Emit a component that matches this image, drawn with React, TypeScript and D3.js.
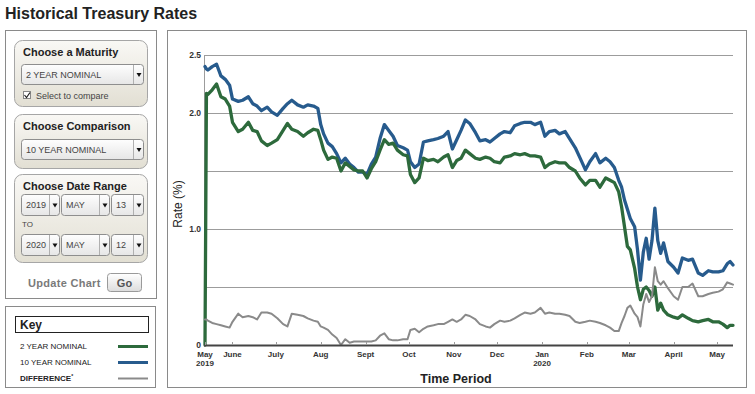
import * as d3 from 'd3';
import { useEffect, useRef } from 'react';

const dates = [
  '2019-05-13', '2019-05-14', '2019-05-15', '2019-05-18', '2019-05-21', '2019-05-24', '2019-05-27', '2019-05-30', '2019-06-01', '2019-06-05',
  '2019-06-08', '2019-06-12', '2019-06-15', '2019-06-18', '2019-06-21', '2019-06-25', '2019-06-28', '2019-07-02', '2019-07-06', '2019-07-09',
  '2019-07-12', '2019-07-16', '2019-07-20', '2019-07-23', '2019-07-27', '2019-07-30', '2019-08-01', '2019-08-03', '2019-08-06', '2019-08-09',
  '2019-08-12', '2019-08-15', '2019-08-18', '2019-08-21', '2019-08-24', '2019-08-27', '2019-08-30', '2019-09-02', '2019-09-05', '2019-09-08',
  '2019-09-11', '2019-09-14', '2019-09-17', '2019-09-20', '2019-09-23', '2019-09-27', '2019-09-30', '2019-10-02', '2019-10-05', '2019-10-08',
  '2019-10-11', '2019-10-14', '2019-10-18', '2019-10-21', '2019-10-25', '2019-10-28', '2019-10-31', '2019-11-03', '2019-11-06', '2019-11-09',
  '2019-11-12', '2019-11-16', '2019-11-19', '2019-11-23', '2019-11-26', '2019-11-29', '2019-12-03', '2019-12-06', '2019-12-10', '2019-12-13',
  '2019-12-17', '2019-12-20', '2019-12-24', '2019-12-27', '2019-12-31', '2020-01-03', '2020-01-06', '2020-01-10', '2020-01-13', '2020-01-17',
  '2020-01-20', '2020-01-24', '2020-01-27', '2020-01-31', '2020-02-03', '2020-02-07', '2020-02-10', '2020-02-14', '2020-02-17', '2020-02-20',
  '2020-02-23', '2020-02-25', '2020-02-27', '2020-02-29', '2020-03-02', '2020-03-05', '2020-03-07', '2020-03-09', '2020-03-11', '2020-03-13',
  '2020-03-15', '2020-03-17', '2020-03-19', '2020-03-21', '2020-03-23', '2020-03-25', '2020-03-28', '2020-04-01', '2020-04-04', '2020-04-07',
  '2020-04-11', '2020-04-14', '2020-04-18', '2020-04-21', '2020-04-25', '2020-04-28', '2020-05-02', '2020-05-05', '2020-05-08', '2020-05-10',
  '2020-05-12',
];

const twoYear = [
  0, 2.17, 2.16, 2.2, 2.25, 2.14, 2.12, 2.06, 1.92, 1.84,
  1.86, 1.92, 1.85, 1.84, 1.76, 1.72, 1.74, 1.77, 1.85, 1.91,
  1.86, 1.84, 1.8, 1.83, 1.86, 1.85, 1.77, 1.68, 1.6, 1.62,
  1.61, 1.5, 1.57, 1.54, 1.51, 1.5, 1.5, 1.44, 1.52, 1.58,
  1.68, 1.77, 1.73, 1.74, 1.68, 1.64, 1.63, 1.47, 1.4, 1.44,
  1.61, 1.59, 1.6, 1.58, 1.62, 1.64, 1.53, 1.59, 1.61, 1.68,
  1.65, 1.61, 1.6, 1.62, 1.61, 1.58, 1.57, 1.62, 1.63, 1.65,
  1.64, 1.65, 1.63, 1.63, 1.62, 1.53, 1.56, 1.58, 1.57, 1.57,
  1.53, 1.5, 1.44, 1.38, 1.42, 1.42, 1.36, 1.44, 1.42, 1.4,
  1.32, 1.19, 1.02, 0.85, 0.82, 0.66, 0.5, 0.39, 0.48, 0.5,
  0.47, 0.42, 0.5, 0.3, 0.36, 0.3, 0.26, 0.24, 0.23, 0.26,
  0.23, 0.21, 0.2, 0.21, 0.22, 0.2, 0.2, 0.18, 0.15, 0.17,
  0.17,
];

const tenYear = [
  2.4, 2.38, 2.37, 2.4, 2.42, 2.32, 2.29, 2.24, 2.12, 2.1,
  2.11, 2.14, 2.08, 2.06, 2.02, 2.05, 2.01, 1.98, 2.04, 2.08,
  2.11, 2.07, 2.05, 2.07, 2.06, 2.04, 1.9, 1.82, 1.74, 1.71,
  1.65, 1.57, 1.61, 1.56, 1.53, 1.49, 1.49, 1.47, 1.56, 1.62,
  1.78, 1.9, 1.85, 1.8, 1.72, 1.7, 1.68, 1.58, 1.53, 1.56,
  1.75, 1.76, 1.77, 1.78, 1.8, 1.84, 1.69, 1.77, 1.85, 1.94,
  1.91, 1.83, 1.76, 1.77, 1.75, 1.78, 1.82, 1.84, 1.83, 1.89,
  1.91, 1.92, 1.92, 1.9, 1.92, 1.8, 1.84, 1.85, 1.82, 1.84,
  1.78, 1.7, 1.62, 1.51, 1.58, 1.65, 1.57, 1.61, 1.58, 1.53,
  1.42, 1.36, 1.25, 1.17, 1.09, 1.02, 0.82, 0.56, 0.8, 0.92,
  0.74, 0.9, 1.18, 0.9, 0.79, 0.88, 0.72, 0.67, 0.62, 0.75,
  0.73, 0.74, 0.62, 0.6, 0.64, 0.63, 0.63, 0.64, 0.7, 0.72,
  0.69,
];

const difference = [
  0.22, 0.22, 0.21, 0.19, 0.18, 0.17, 0.16, 0.15, 0.2, 0.27,
  0.24, 0.25, 0.24, 0.22, 0.28, 0.28, 0.27, 0.23, 0.18, 0.16,
  0.27, 0.26, 0.25, 0.23, 0.21, 0.2, 0.16, 0.15, 0.13, 0.09,
  0.06, 0.0, 0.05, 0.02, 0.03, 0.03, 0.03, 0.03, 0.03, 0.04,
  0.08, 0.1, 0.05, 0.04, 0.04, 0.05, 0.05, 0.13, 0.14, 0.11,
  0.14, 0.16, 0.17, 0.18, 0.18, 0.2, 0.22, 0.2, 0.22, 0.26,
  0.25, 0.22, 0.18, 0.16, 0.15, 0.18, 0.21, 0.2, 0.21, 0.23,
  0.26, 0.28, 0.27, 0.28, 0.32, 0.27, 0.28, 0.27, 0.27, 0.26,
  0.25, 0.2, 0.19, 0.2, 0.21, 0.2, 0.19, 0.17, 0.15, 0.12,
  0.12, 0.19, 0.25, 0.32, 0.34, 0.27, 0.24, 0.16, 0.35, 0.44,
  0.37, 0.42, 0.67, 0.55, 0.52, 0.55, 0.49, 0.42, 0.39, 0.5,
  0.5, 0.53, 0.42, 0.42, 0.44, 0.45, 0.46, 0.48, 0.54, 0.53,
  0.52,
];

const monthTicks = [
  '2019-05-13', '2019-06-01', '2019-07-01', '2019-08-01', '2019-09-01', '2019-10-01', '2019-11-01',
  '2019-12-01', '2020-01-01', '2020-02-01', '2020-03-01', '2020-04-01', '2020-05-01',
];
const monthLabels = ['May', 'June', 'July', 'Aug', 'Sept', 'Oct', 'Nov', 'Dec', 'Jan', 'Feb', 'Mar', 'April', 'May'];
const yearLabels = ['2019', '', '', '', '', '', '', '', '2020', '', '', '', ''];

const gridValues = [0.5, 1, 1.5, 2, 2.5];
const yTickValues = [0, 1, 2, 2.5];
const yTickLabels = ['0', '1.0', '2.0', '2.5'];

const colors = {
  two: '#2d6a3c',
  ten: '#275b8d',
  diff: '#8a8a8a',
  grid: '#9c9c9c',
  axis: '#444',
  text: '#333',
};

const font = 'Arial, "Liberation Sans", Helvetica, sans-serif';

function RateChart() {
  const gRef = useRef<SVGGElement>(null);

  useEffect(() => {
    const el = gRef.current;
    if (!el) return;
    const g = d3.select(el);
    g.selectAll('*').remove();

    const parse = d3.timeParse('%Y-%m-%d');
    const t = dates.map((d) => parse(d)!);
    const x = d3.scaleTime().domain([t[0], t[t.length - 1]]).range([205, 733]);
    const y = d3.scaleLinear().domain([0, 2.5]).range([345, 55]);
    const [x0, x1] = x.range();

    g.selectAll('.grid')
      .data(gridValues)
      .join('line')
      .attr('x1', x0 - 1)
      .attr('x2', x1)
      .attr('y1', (d) => Math.round(y(d)) + 0.5)
      .attr('y2', (d) => Math.round(y(d)) + 0.5)
      .attr('stroke', colors.grid)
      .attr('stroke-width', 1);

    // left axis
    g.append('line')
      .attr('x1', x0 - 0.5)
      .attr('x2', x0 - 0.5)
      .attr('y1', y(2.5))
      .attr('y2', y(0))
      .attr('stroke', colors.grid);

    g.selectAll('.ylab')
      .data(yTickValues)
      .join('text')
      .attr('x', x0 - 4)
      .attr('y', (d) => y(d))
      .attr('dy', '0.35em')
      .attr('text-anchor', 'end')
      .attr('font-size', 8.5)
      .attr('font-weight', 'bold')
      .attr('fill', colors.text)
      .text((_, i) => yTickLabels[i]);

    const line = d3
      .line<number>()
      .x((_, i) => x(t[i]))
      .y((d) => y(d));

    const series = [
      { values: tenYear, color: colors.ten, width: 3.3 },
      { values: twoYear, color: colors.two, width: 3.3 },
      { values: difference, color: colors.diff, width: 2 },
    ];

    g.selectAll('.series')
      .data(series)
      .join('path')
      .attr('d', (d) => line(d.values))
      .attr('fill', 'none')
      .attr('stroke', (d) => d.color)
      .attr('stroke-width', (d) => d.width)
      .attr('stroke-linejoin', 'round')
      .attr('stroke-linecap', 'round');

    // x axis
    g.append('line')
      .attr('x1', x0 - 1)
      .attr('x2', x1)
      .attr('y1', y(0) + 0.5)
      .attr('y2', y(0) + 0.5)
      .attr('stroke', colors.axis)
      .attr('stroke-width', 2);

    const ticks = monthTicks.map((d) => parse(d)!);

    g.selectAll('.xtick')
      .data(ticks)
      .join('line')
      .attr('x1', (d) => Math.round(x(d)) + 0.5)
      .attr('x2', (d) => Math.round(x(d)) + 0.5)
      .attr('y1', y(0) - 3)
      .attr('y2', y(0))
      .attr('stroke', colors.grid);

    g.selectAll('.xlab')
      .data(ticks)
      .join('text')
      .attr('x', (d) => x(d))
      .attr('y', y(0) + 11.5)
      .attr('text-anchor', 'middle')
      .attr('font-size', 8)
      .attr('font-weight', 'bold')
      .attr('fill', colors.text)
      .text((_, i) => monthLabels[i]);

    g.selectAll('.xyear')
      .data(ticks)
      .join('text')
      .attr('x', (d) => x(d))
      .attr('y', y(0) + 20.5)
      .attr('text-anchor', 'middle')
      .attr('font-size', 8)
      .attr('font-weight', 'bold')
      .attr('fill', colors.text)
      .text((_, i) => yearLabels[i]);

    g.append('text')
      .attr('x', 456)
      .attr('y', 383)
      .attr('text-anchor', 'middle')
      .attr('font-size', 12.5)
      .attr('font-weight', 'bold')
      .attr('fill', '#222')
      .text('Time Period');

    g.append('text')
      .attr('transform', 'translate(182,204) rotate(-90)')
      .attr('text-anchor', 'middle')
      .attr('font-size', 12)
      .attr('fill', '#222')
      .text('Rate (%)');
  }, []);

  return <g ref={gRef} />;
}

type SelectProps = { x: number; y: number; w: number; h?: number; label: string };

function Select({ x, y, w, h = 20, label }: SelectProps) {
  return (
    <g>
      <rect x={x + 0.5} y={y + 0.5} width={w} height={h} rx={3} fill="url(#selGrad)" stroke="#8e8e8e" />
      <line x1={x + w - 9.5} x2={x + w - 9.5} y1={y + 1} y2={y + h} stroke="#b0b0b0" />
      <text x={x + 5} y={y + h / 2 + 3.5} fontSize={9} fill="#444">
        {label}
      </text>
      <path d={`M${x + w - 6.5},${y + h / 2 - 1} h5 l-2.5,4 z`} fill="#111" />
    </g>
  );
}

function Panel({ x, y, w, h, title }: { x: number; y: number; w: number; h: number; title: string }) {
  return (
    <g>
      <rect x={x + 0.5} y={y + 0.5} width={w} height={h} rx={8} fill="url(#panelGrad)" stroke="#a6a6a6" />
      <text x={x + 9} y={y + 16} fontSize={11} fontWeight="bold" fill="#222">
        {title}
      </text>
    </g>
  );
}

function Controls() {
  return (
    <g>
      <rect x={5.5} y={30.5} width={151} height={268} fill="#fff" stroke="#8a8a8a" />

      <Panel x={14} y={40} w={133} h={66} title="Choose a Maturity" />
      <Select x={21} y={64} w={122} label="2 YEAR NOMINAL" />
      <rect x={23.5} y={91.5} width={7} height={7} fill="#fff" stroke="#888" />
      <path d="M24.5,95 l2,2.5 l3.5,-5" fill="none" stroke="#222" strokeWidth={1.2} />
      <text x={36} y={98.5} fontSize={9} fill="#444">
        Select to compare
      </text>

      <Panel x={14} y={114} w={133} h={54} title="Choose Comparison" />
      <Select x={21} y={139} w={122} label="10 YEAR NOMINAL" />

      <Panel x={14} y={174} w={133} h={88} title="Choose Date Range" />
      <Select x={21} y={194} w={38} h={21} label="2019" />
      <Select x={61} y={194} w={48} h={21} label="MAY" />
      <Select x={111} y={194} w={32} h={21} label="13" />
      <text x={22} y={227} fontSize={8} fill="#444">
        TO
      </text>
      <Select x={21} y={234} w={38} h={21} label="2020" />
      <Select x={61} y={234} w={48} h={21} label="MAY" />
      <Select x={111} y={234} w={32} h={21} label="12" />

      <text x={28} y={287} fontSize={11} fontWeight="bold" fill="#7a7a7a" letterSpacing={0.3}>
        Update Chart
      </text>
      <rect x={107.5} y={273.5} width={34} height={18} rx={3} fill="url(#btnGrad)" stroke="#9a9a9a" />
      <text x={124.5} y={287} fontSize={11} fontWeight="bold" fill="#555" textAnchor="middle">
        Go
      </text>
    </g>
  );
}

const keyItems = [
  { label: '2 YEAR NOMINAL', color: colors.two, width: 3, bold: false },
  { label: '10 YEAR NOMINAL', color: colors.ten, width: 3, bold: false },
  { label: 'DIFFERENCE', color: colors.diff, width: 2, bold: true },
];

function Key() {
  return (
    <g>
      <rect x={5.5} y={306.5} width={150} height={81} fill="#fff" stroke="#8a8a8a" />
      <rect x={15.5} y={316.5} width={133} height={16} fill="#fff" stroke="#222" />
      <text x={20} y={329} fontSize={12} fontWeight="bold" fill="#222">
        Key
      </text>
      {keyItems.map((k, i) => (
        <g key={k.label}>
          <text x={20} y={349 + i * 16} fontSize={8} fontWeight={k.bold ? 'bold' : 'normal'} fill="#222">
            {k.label}
            {k.bold && (
              <tspan fontSize={5} dy={-3}>
                *
              </tspan>
            )}
          </text>
          <line x1={118} x2={148} y1={346.5 + i * 16} y2={346.5 + i * 16} stroke={k.color} strokeWidth={k.width} />
        </g>
      ))}
    </g>
  );
}

export default function App() {
  return (
    <div style={{ position: 'absolute', left: 0, top: 0, width: 755, height: 394, background: '#fff' }}>
      <svg width={755} height={394} style={{ display: 'block', fontFamily: font }}>
        <defs>
          <linearGradient id="panelGrad" x1="0" y1="0" x2="0" y2="1">
            <stop offset="0" stopColor="#f9f8f5" />
            <stop offset="1" stopColor="#e2dfd3" />
          </linearGradient>
          <linearGradient id="selGrad" x1="0" y1="0" x2="0" y2="1">
            <stop offset="0" stopColor="#fefefe" />
            <stop offset="1" stopColor="#e6e6e6" />
          </linearGradient>
          <linearGradient id="btnGrad" x1="0" y1="0" x2="0" y2="1">
            <stop offset="0" stopColor="#ffffff" />
            <stop offset="1" stopColor="#dcdcdc" />
          </linearGradient>
        </defs>
        <text x={5} y={19} fontSize={16} fontWeight="bold" fill="#222">
          Historical Treasury Rates
        </text>
        <Controls />
        <Key />
        <rect x={167.5} y={30.5} width={579} height={357} fill="#fff" stroke="#8a8a8a" />
        <RateChart />
      </svg>
    </div>
  );
}
